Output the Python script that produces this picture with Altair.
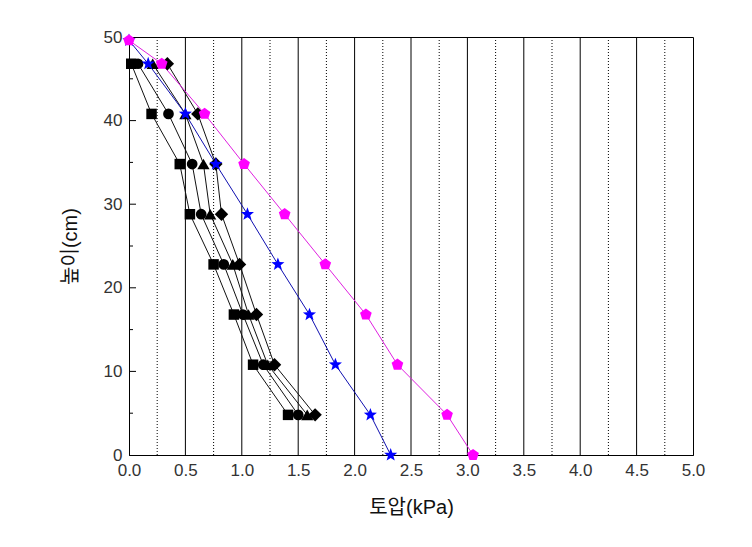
import math
import altair as alt
import pandas as pd

# ---------------- data ----------------
series_names = ["강사완료", "3cm", "6cm", "9cm",
                "K₀ = 1 − sinΦ(Φ=45°)", "K₀ = 1 − sinΦ(Φ=36°)"]

heights_exp = [46.8, 40.8, 34.8, 28.8, 22.8, 16.8, 10.8, 4.8]
heights_k0 = [49.6, 46.8, 40.8, 34.8, 28.8, 22.8, 16.8, 10.8, 4.8, 0.0]

p_done = [0.02, 0.20, 0.45, 0.54, 0.75, 0.93, 1.10, 1.41]
p_3cm = [0.08, 0.35, 0.56, 0.64, 0.84, 1.01, 1.19, 1.50]
p_6cm = [0.21, 0.50, 0.66, 0.72, 0.92, 1.06, 1.23, 1.58]
p_9cm = [0.34, 0.61, 0.77, 0.82, 0.98, 1.13, 1.29, 1.65]
p_k45 = [0.00, 0.17, 0.50, 0.77, 1.05, 1.32, 1.60, 1.83, 2.14, 2.32]
p_k36 = [0.00, 0.29, 0.67, 1.02, 1.38, 1.74, 2.10, 2.38, 2.82, 3.05]

x_labels = [0.0, 0.5, 1.0, 1.5, 2.0, 2.5, 3.0, 3.5, 4.0, 4.5, 5.0]
y_labels = [0, 10, 20, 30, 40, 50]
grid_major = [0.5, 1.0, 1.5, 2.0, 2.5, 3.0, 3.5, 4.0, 4.5]
grid_minor = [0.25, 0.75, 1.25, 1.75, 2.25, 2.75, 3.25, 3.75, 4.25, 4.75]
y_ticks_major = [10, 20, 30, 40]
y_ticks_minor = [5, 15, 25, 35, 45]

rows = []
for name, xs, ys in [(series_names[0], p_done, heights_exp),
                     (series_names[1], p_3cm, heights_exp),
                     (series_names[2], p_6cm, heights_exp),
                     (series_names[3], p_9cm, heights_exp),
                     (series_names[4], p_k45, heights_k0),
                     (series_names[5], p_k36, heights_k0)]:
    for i, (xv, yv) in enumerate(zip(xs, ys)):
        rows.append({"series": name, "p": xv, "h": yv, "idx": i})
df = pd.DataFrame(rows)

# ---------------- styles ----------------
FONT = "Liberation Sans, Noto Sans CJK KR"
line_colors = ["#111111", "#111111", "#111111", "#111111", "#1010b0", "#e020e0"]
mark_colors = ["#000000", "#000000", "#000000", "#000000", "#0000ff", "#ff00ff"]


def poly(r, n, rot=-90, inner=None):
    pts = []
    k = n * 2 if inner else n
    for i in range(k):
        ang = math.radians(rot + i * 360.0 / k)
        rr = r if (not inner or i % 2 == 0) else r * inner
        pts.append((rr * math.cos(ang), rr * math.sin(ang)))
    return "M" + "L".join(f"{a:.3f},{b:.3f}" for a, b in pts) + "Z"


star_path = poly(1, 5, inner=0.42)
pentagon_path = poly(1, 5)
plot_shapes = ["square", "circle", "triangle-up", "diamond", star_path, pentagon_path]
plot_sizes = [110, 115, 150, 180, 190, 150]

xscale = alt.Scale(domain=[0, 5], nice=False, zero=False)
yscale = alt.Scale(domain=[0, 50], nice=False, zero=False)

x_axis = alt.Axis(values=x_labels, format=".1f", title="토압(kPa)", grid=False,
                  ticks=False, labelPadding=7, titlePadding=19, labelFlush=False,
                  labelFontSize=17, titleFontSize=20)
y_axis = alt.Axis(values=y_labels, title="높이(cm)", grid=False, ticks=False,
                  labelPadding=7, titlePadding=23, labelFlush=False,
                  labelFontSize=17, titleFontSize=20)

gmin = alt.Chart(pd.DataFrame({"p": grid_minor})).mark_rule(
    color="black", strokeWidth=1, strokeDash=[1, 2]).encode(
    x=alt.X("p:Q", scale=xscale, axis=x_axis))
gmaj = alt.Chart(pd.DataFrame({"p": grid_major})).mark_rule(
    color="black", strokeWidth=1).encode(x=alt.X("p:Q", scale=xscale, axis=x_axis))

tmaj = alt.Chart(pd.DataFrame({"h": y_ticks_major})).mark_rule(
    color="black", strokeWidth=1).encode(
    y=alt.Y("h:Q", scale=yscale, axis=y_axis), x=alt.value(0), x2=alt.value(7))
tmin = alt.Chart(pd.DataFrame({"h": y_ticks_minor})).mark_rule(
    color="black", strokeWidth=1).encode(
    y=alt.Y("h:Q", scale=yscale, axis=y_axis), x=alt.value(0), x2=alt.value(4))

base = alt.Chart(df)

lines = base.mark_line(strokeWidth=1).encode(
    x=alt.X("p:Q", scale=xscale, axis=x_axis),
    y=alt.Y("h:Q", scale=yscale, axis=y_axis),
    stroke=alt.Stroke("series:N", scale=alt.Scale(domain=series_names, range=line_colors), legend=None),
    order="idx:Q",
)

leg = alt.Legend(title=None, orient="top-right", offset=6,
                 fillColor="white", strokeColor="black", padding=14,
                 labelFont=FONT, labelFontSize=19, labelColor="#222222",
                 labelOffset=26, labelLimit=400, rowPadding=8,
                 symbolSize=130, symbolOpacity=1)

points = base.mark_point(filled=True, opacity=1).encode(
    x=alt.X("p:Q", scale=xscale, axis=x_axis),
    y=alt.Y("h:Q", scale=yscale, axis=y_axis),
    color=alt.Color("series:N", scale=alt.Scale(domain=series_names, range=mark_colors), legend=leg),
    shape=alt.Shape("series:N", scale=alt.Scale(domain=series_names, range=plot_shapes), legend=leg),
    size=alt.Size("series:N", scale=alt.Scale(type="ordinal", domain=series_names, range=plot_sizes), legend=None),
)

chart = alt.layer(gmin, gmaj, tmaj, tmin, lines, points).properties(
    width=564, height=418,
    padding={"left": 52, "top": 20, "right": 20, "bottom": 20},
).configure_view(
    stroke="black", strokeWidth=1
).configure_axis(
    domainColor="black", labelColor="#333333", titleColor="#111111",
    labelFont=FONT, titleFont=FONT, titleFontWeight="normal",
)

chart.save("out.html", embed_options={"renderer": "svg", "actions": False})
